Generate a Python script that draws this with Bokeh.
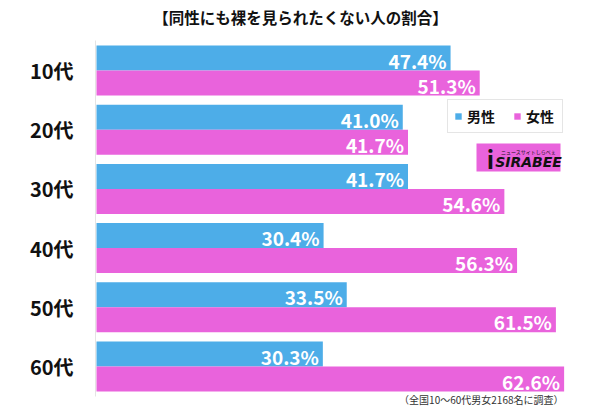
from bokeh.plotting import figure
from bokeh.models import Range1d, Legend, LegendItem, ColumnDataSource
from bokeh.core.properties import value
from bokeh.embed import file_html
from bokeh.resources import INLINE

# ---- data ----
categories = ["10代", "20代", "30代", "40代", "50代", "60代"]
male = [47.4, 41.0, 41.7, 30.4, 33.5, 30.3]
female = [51.3, 41.7, 54.6, 56.3, 61.5, 62.6]
series_names = ["男性", "女性"]
title_text = "【同性にも裸を見られたくない人の割合】"
note_text = "（全国10〜60代男女2168名に調査）"

BLUE = "#4DADE8"
PINK = "#E963DC"
FONT_NAME = "Noto Sans CJK JP"
FONT = value(FONT_NAME)

# ---- layout (canvas pixels) ----
W, H = 600, 409
X0 = 96          # canvas px of value 0
PX_PER_PCT = 7.47
Y0 = 70          # canvas px of first group centre
PITCH = 59.2
BAR_PX = 25


def dx(px):
    return (px - X0) / PX_PER_PCT


def dy(py):
    return (py - Y0) / PITCH


p = figure(width=W, height=H, output_backend="svg", toolbar_location=None,
           x_range=Range1d(dx(0), dx(W)), y_range=Range1d(dy(H), dy(0)),
           x_axis_location=None, y_axis_location=None,
           min_border=0, outline_line_color=None)
p.grid.visible = False
p.background_fill_color = "white"

idx = list(range(len(categories)))
half = (BAR_PX / 2) / PITCH
bh = BAR_PX / PITCH
src = ColumnDataSource(dict(
    y_m=[i - half for i in idx], y_f=[i + half for i in idx],
    male=male, female=female,
    ml=[f"{v:.1f}%" for v in male], fl=[f"{v:.1f}%" for v in female],
))

# baseline line
p.segment(x0=[dx(95)], x1=[dx(95)], y0=[dy(40)], y1=[dy(396)], line_color="#e4e4e4", line_width=1)

rm = p.hbar(y="y_m", left=0, right="male", height=bh, fill_color=BLUE, line_color=None, source=src)
rf = p.hbar(y="y_f", left=0, right="female", height=bh, fill_color=PINK, line_color=None, source=src)

lab_kw = dict(text_align="right", text_baseline="middle", text_color="white",
              text_font=FONT, text_font_style="bold", text_font_size="19px",
              x_offset=-4, y_offset=2, source=src)
p.text(x="male", y="y_m", text="ml", **lab_kw)
p.text(x="female", y="y_f", text="fl", **lab_kw)

# category labels
p.text(x=[dx(73)] * len(idx), y=idx, text=categories, text_align="right", text_baseline="middle",
       text_color="#111111", text_font=FONT, text_font_style="bold", text_font_size="20px")

# title
p.text(x=[dx(300)], y=[dy(16)], text=[title_text], text_align="center", text_baseline="middle",
       text_color="#111111", text_font=FONT, text_font_style="bold", text_font_size="15.5px")

# footnote
p.text(x=[dx(563)], y=[dy(399)], text=[note_text], text_align="right", text_baseline="middle",
       text_color="#333333", text_font=FONT, text_font_size="10px")

# logo
p.quad(left=[dx(476)], right=[dx(560)], top=[dy(143)], bottom=[dy(171)], fill_color=PINK, line_color=None)
p.text(x=[dx(490)], y=[dy(158)], text=["i"], text_align="center", text_baseline="middle",
       text_color="#111111", text_font=FONT, text_font_style="bold", text_font_size="24px")
p.text(x=[dx(528)], y=[dy(151)], text=["ニュースサイトしらべぇ"], text_align="center", text_baseline="middle",
       text_color="#111111", text_font=FONT, text_font_size="5px")
p.text(x=[dx(528)], y=[dy(161)], text=["SIRABEE"], text_align="center", text_baseline="middle",
       text_color="#111111", text_font=value("DejaVu Sans"), text_font_style="bold italic", text_font_size="14px")

legend = Legend(items=[LegendItem(label=series_names[0], renderers=[rm]),
                       LegendItem(label=series_names[1], renderers=[rf])],
                orientation="horizontal", location=(447, H - 133),
                border_line_color="#cccccc", border_line_width=1, background_fill_color="white",
                label_text_font=FONT_NAME, label_text_font_size="14px", label_text_font_style="bold",
                label_text_color="#111111",
                glyph_width=8, glyph_height=8, label_standoff=5, spacing=16,
                label_width=30, padding=6, margin=0, label_height=17)
p.add_layout(legend)

open("out.html", "w").write(file_html(p, INLINE))
